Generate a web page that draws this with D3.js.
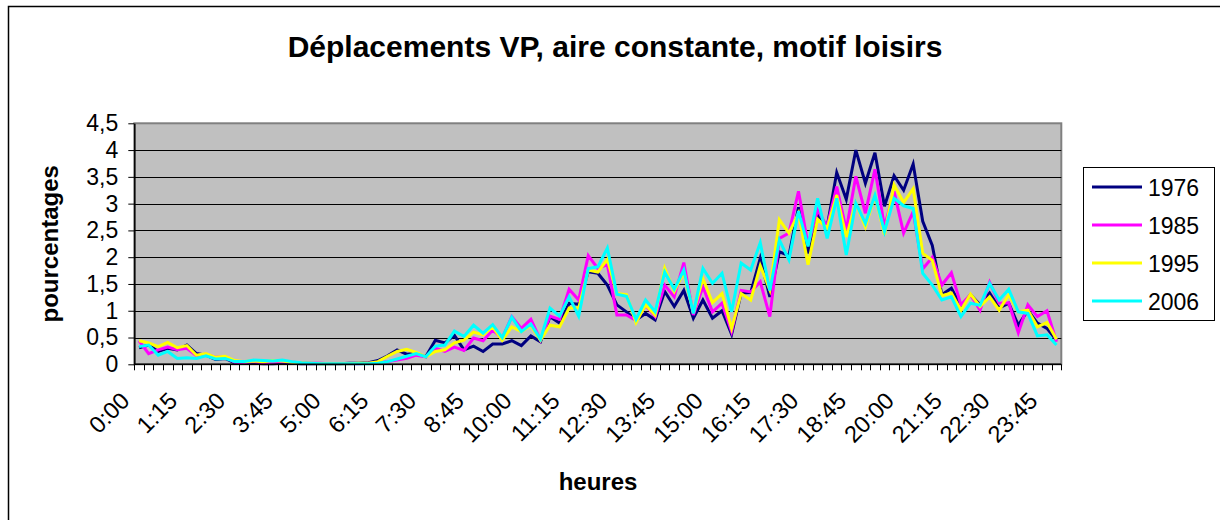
<!DOCTYPE html>
<html>
<head>
<meta charset="utf-8">
<script src="https://cdn.jsdelivr.net/npm/d3@7"></script>
<style>
  html, body { margin: 0; padding: 0; background: #fff; }
  svg { display: block; font-family: Arial, "Liberation Sans", sans-serif; }
</style>
</head>
<body>
<svg id="chart" width="1220" height="520"></svg>
<script>
const categories = [
  "0:00","0:15","0:30","0:45","1:00","1:15","1:30","1:45","2:00","2:15","2:30","2:45",
  "3:00","3:15","3:30","3:45","4:00","4:15","4:30","4:45","5:00","5:15","5:30","5:45",
  "6:00","6:15","6:30","6:45","7:00","7:15","7:30","7:45","8:00","8:15","8:30","8:45",
  "9:00","9:15","9:30","9:45","10:00","10:15","10:30","10:45","11:00","11:15","11:30","11:45",
  "12:00","12:15","12:30","12:45","13:00","13:15","13:30","13:45","14:00","14:15","14:30","14:45",
  "15:00","15:15","15:30","15:45","16:00","16:15","16:30","16:45","17:00","17:15","17:30","17:45",
  "18:00","18:15","18:30","18:45","19:00","19:15","19:30","19:45","20:00","20:15","20:30","20:45",
  "21:00","21:15","21:30","21:45","22:00","22:15","22:30","22:45","23:00","23:15","23:30","23:45","24:00"
];
const xTickLabels = ["0:00","1:15","2:30","3:45","5:00","6:15","7:30","8:45","10:00","11:15",
  "12:30","13:45","15:00","16:15","17:30","18:45","20:00","21:15","22:30","23:45"];
const yTicks = [0, 0.5, 1, 1.5, 2, 2.5, 3, 3.5, 4, 4.5];
const yTickLabels = ["0","0,5","1","1,5","2","2,5","3","3,5","4","4,5"];
const seriesNames = ["1976","1985","1995","2006"];
const seriesColors = ["#000080","#FF00FF","#FFFF00","#00FFFF"];

const v1976 = [0.31,0.36,0.24,0.30,0.27,0.36,0.20,0.17,0.09,0.11,
  0.03,0.02,0.02,0.01,0.01,0.02,0.02,0.01,0.01,0.01,
  0.01,0.01,0.02,0.02,0.03,0.07,0.16,0.27,0.19,0.20,
  0.14,0.45,0.40,0.54,0.27,0.34,0.24,0.38,0.38,0.44,
  0.35,0.53,0.42,0.89,0.77,1.14,1.12,1.73,1.70,1.48,
  1.11,0.98,0.83,0.95,0.83,1.36,1.08,1.38,0.86,1.20,
  0.86,1.00,0.56,1.33,1.34,1.98,1.26,2.10,2.03,2.93,
  2.07,2.79,2.57,3.58,3.08,4.00,3.38,3.95,2.95,3.52,
  3.25,3.74,2.67,2.22,1.30,1.42,1.08,1.30,1.11,1.33,
  1.05,1.14,0.73,1.01,0.77,0.67,0.45];
const v1985 = [0.44,0.20,0.27,0.32,0.27,0.30,0.16,0.19,0.13,0.14,
  0.04,0.03,0.05,0.03,0.04,0.05,0.04,0.03,0.02,0.02,
  0.01,0.01,0.01,0.01,0.02,0.03,0.05,0.08,0.11,0.17,
  0.14,0.30,0.24,0.32,0.26,0.49,0.44,0.64,0.49,0.89,
  0.67,0.84,0.45,0.90,0.84,1.40,1.20,2.03,1.79,1.86,
  0.92,0.92,0.82,1.10,0.89,1.48,1.26,1.90,0.92,1.45,
  0.98,1.14,0.61,1.38,1.35,1.54,0.89,2.35,2.45,3.23,
  2.23,2.88,2.57,3.32,2.51,3.51,2.82,3.64,2.57,3.23,
  2.45,2.85,1.78,2.00,1.48,1.71,1.11,1.30,1.01,1.53,
  1.14,1.15,0.59,1.11,0.89,1.00,0.42];
const v1995 = [0.44,0.40,0.33,0.41,0.31,0.35,0.17,0.20,0.13,0.15,
  0.07,0.05,0.06,0.05,0.07,0.06,0.04,0.03,0.02,0.01,
  0.01,0.01,0.01,0.02,0.02,0.05,0.15,0.24,0.28,0.22,
  0.14,0.24,0.27,0.40,0.45,0.60,0.55,0.70,0.45,0.70,
  0.61,0.72,0.45,0.73,0.70,1.05,1.05,1.76,1.72,1.96,
  1.32,1.30,0.78,1.11,0.92,1.79,1.36,1.72,0.96,1.60,
  1.15,1.32,0.67,1.32,1.20,1.84,1.39,2.70,2.45,2.82,
  1.86,2.71,2.54,3.16,2.38,3.01,2.57,3.16,2.42,3.35,
  3.02,3.28,2.07,1.94,1.28,1.33,1.01,1.31,1.08,1.26,
  1.01,1.30,0.98,1.01,0.70,0.78,0.47];
const v2006 = [0.33,0.36,0.17,0.24,0.11,0.12,0.11,0.16,0.10,0.11,
  0.05,0.05,0.08,0.07,0.06,0.08,0.05,0.03,0.02,0.01,
  0.01,0.01,0.01,0.01,0.01,0.02,0.05,0.10,0.15,0.20,
  0.14,0.34,0.36,0.62,0.52,0.73,0.58,0.74,0.50,0.88,
  0.61,0.75,0.47,1.05,0.90,1.26,0.90,1.79,1.82,2.17,
  1.31,1.27,0.84,1.20,0.98,1.72,1.40,1.76,0.95,1.79,
  1.51,1.70,0.98,1.89,1.76,2.27,1.38,2.32,1.95,2.86,
  2.20,3.10,2.35,3.10,2.04,3.01,2.63,3.16,2.48,3.10,
  2.96,2.91,1.70,1.48,1.20,1.26,0.89,1.14,1.10,1.51,
  1.20,1.40,0.98,0.95,0.53,0.55,0.36];
const seriesValues = [v1976, v1985, v1995, v2006];

const svg = d3.select("#chart");
const plot = { left: 134.3, right: 1061.3, top: 123.3, bottom: 364.3 };

// Outer chart border
svg.append("rect").attr("x", 8.5).attr("y", 6.5).attr("width", 1230).attr("height", 530)
  .attr("fill", "#fff").attr("stroke", "#000").attr("stroke-width", 1.5);

const x = d3.scaleBand().domain(categories).range([plot.left, plot.right]).paddingInner(0).paddingOuter(0);
const y = d3.scaleLinear().domain([0, 4.5]).range([plot.bottom, plot.top]);
const cx = d => x(d) + x.bandwidth() / 2;

// Plot area
svg.append("rect").attr("x", plot.left).attr("y", plot.top)
  .attr("width", plot.right - plot.left).attr("height", plot.bottom - plot.top)
  .attr("fill", "#C0C0C0").attr("stroke", "#808080").attr("stroke-width", 2);

// Gridlines
svg.append("g").selectAll("line").data(yTicks.filter(d => d > 0 && d < 4.5)).join("line")
  .attr("x1", plot.left).attr("x2", plot.right)
  .attr("y1", d => Math.round(y(d)) + 0.5).attr("y2", d => Math.round(y(d)) + 0.5)
  .attr("stroke", "#000").attr("stroke-width", 1);

// Series lines
const line = d3.line().x((d, i) => cx(categories[i])).y(d => y(d));
seriesValues.forEach((vals, si) => {
  svg.append("path").datum(vals).attr("d", line)
    .attr("fill", "none").attr("stroke", seriesColors[si])
    .attr("stroke-width", 3).attr("stroke-linejoin", "miter");
});

// Y axis
const yAxis = d3.axisLeft(y).tickValues(yTicks)
  .tickFormat((d, i) => yTickLabels[i]).tickSize(6).tickPadding(10).tickSizeOuter(0);
const gy = svg.append("g").attr("transform", `translate(${plot.left},0)`).call(yAxis);
gy.select(".domain").attr("stroke", "#000").attr("stroke-width", 1.5);
gy.selectAll(".tick line").attr("stroke", "#000");
gy.selectAll(".tick text").attr("font-size", 23).attr("fill", "#000")
  .attr("font-family", "Arial, 'Liberation Sans', sans-serif");

// X axis line
svg.append("line").attr("x1", plot.left).attr("x2", plot.right)
  .attr("y1", plot.bottom).attr("y2", plot.bottom).attr("stroke", "#000").attr("stroke-width", 1.5);
// X ticks at category boundaries
const bounds = categories.map(c => x(c)).concat([x(categories[categories.length - 1]) + x.bandwidth()]);
svg.append("g").selectAll("line").data(bounds).join("line")
  .attr("x1", d => Math.round(d) + 0.5).attr("x2", d => Math.round(d) + 0.5)
  .attr("y1", plot.bottom).attr("y2", plot.bottom + 6)
  .attr("stroke", "#000").attr("stroke-width", 1);
// X tick labels
svg.append("g").selectAll("text").data(xTickLabels).join("text")
  .attr("transform", d => `translate(${cx(d) - 8},${plot.bottom + 38}) rotate(-45)`)
  .attr("text-anchor", "end").attr("font-size", 23.5).attr("fill", "#000")
  .text(d => d);

// Titles
svg.append("text").attr("x", 615).attr("y", 57).attr("text-anchor", "middle")
  .attr("font-size", 30).attr("font-weight", "bold").text("Déplacements VP, aire constante, motif loisirs");
svg.append("text").attr("transform", `translate(58,${(plot.top + plot.bottom) / 2}) rotate(-90)`)
  .attr("text-anchor", "middle").attr("font-size", 24).attr("font-weight", "bold").text("pourcentages");
svg.append("text").attr("x", 598).attr("y", 490).attr("text-anchor", "middle")
  .attr("font-size", 24).attr("font-weight", "bold").text("heures");

// Legend
const lg = svg.append("g");
lg.append("rect").attr("x", 1083.5).attr("y", 167.5).attr("width", 131).attr("height", 153)
  .attr("fill", "#fff").attr("stroke", "#000").attr("stroke-width", 1);
const legendY = d3.scalePoint().domain(seriesNames).range([187, 301]);
seriesNames.forEach((n, i) => {
  lg.append("line").attr("x1", 1092).attr("x2", 1142).attr("y1", legendY(n)).attr("y2", legendY(n))
    .attr("stroke", seriesColors[i]).attr("stroke-width", 3);
  lg.append("text").attr("x", 1148).attr("y", legendY(n) + 8.5).attr("font-size", 23)
    .attr("fill", "#000").text(n);
});
</script>
</body>
</html>
